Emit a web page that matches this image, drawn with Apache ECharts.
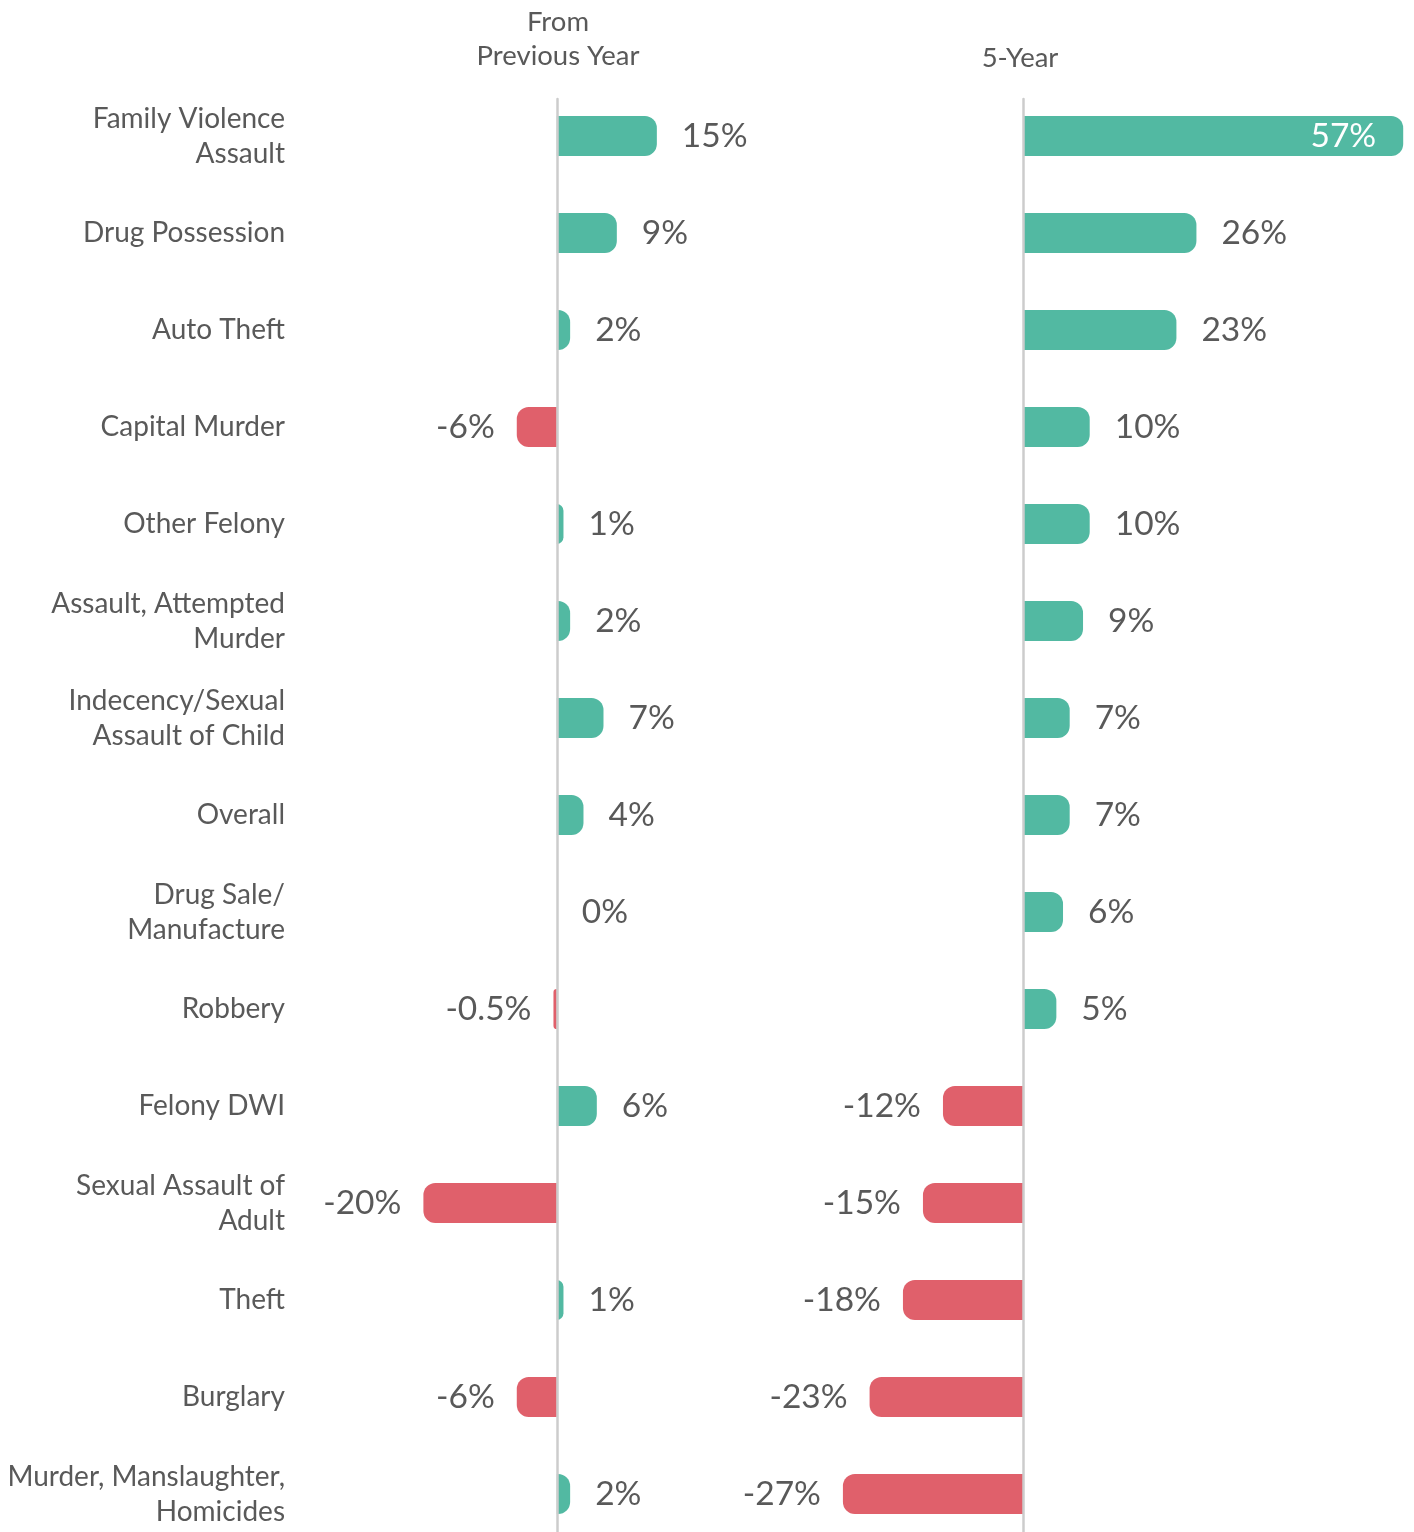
<!DOCTYPE html>
<html>
<head>
<meta charset="utf-8">
<script src="https://cdn.jsdelivr.net/npm/echarts@6/dist/echarts.min.js"></script>
<style>html,body{margin:0;padding:0;background:#fff;overflow:hidden}#c{width:1414px;height:1560px}</style>
</head>
<body>
<div id="c"></div>
<script>
var categories = ["Family Violence\nAssault","Drug Possession","Auto Theft","Capital Murder","Other Felony","Assault, Attempted\nMurder","Indecency/Sexual\nAssault of Child","Overall","Drug Sale/\nManufacture","Robbery","Felony DWI","Sexual Assault of\nAdult","Theft","Burglary","Murder, Manslaughter,\nHomicides"];
var prevYearValues = [15, 9, 2, -6, 1, 2, 7, 4, 0, -0.5, 6, -20, 1, -6, 2];
var prevYearLabels = ["15%","9%","2%","-6%","1%","2%","7%","4%","0%","-0.5%","6%","-20%","1%","-6%","2%"];
var fiveYearValues = [57, 26, 23, 10, 10, 9, 7, 7, 6, 5, -12, -15, -18, -23, -27];
var fiveYearLabels = ["57%","26%","23%","10%","10%","9%","7%","7%","6%","5%","-12%","-15%","-18%","-23%","-27%"];
var panelTitles = ["From\nPrevious Year", "5-Year"];

var GREEN = '#52B9A2', RED = '#E0606B', TEXT = '#595959', LINE = '#cccccc';
var FONT = 'Lato';

function items(vals, labels, insideIdx) {
  return vals.map(function (v, i) {
    var neg = v < 0;
    var lab = {
      show: true,
      position: neg ? 'left' : 'right',
      distance: neg ? 22 : 25,
      formatter: labels[i],
      color: TEXT,
      fontSize: 33.5,
      fontFamily: FONT
    };
    if (insideIdx.indexOf(i) >= 0) {
      lab.position = 'insideRight';
      lab.distance = 27;
      lab.color = '#ffffff';
    }
    return {
      value: v,
      itemStyle: { color: neg ? RED : GREEN, borderRadius: neg ? [12, 0, 0, 12] : [0, 12, 12, 0] },
      label: lab
    };
  });
}

var chart = echarts.init(document.getElementById('c'), null, { renderer: 'canvas' });
var gridTop = 87.5, gridH = 1455;
var leftMin = -40, leftMax = 40, rightMin = -30, rightMax = 57;
var hiddenY = { axisLine: { show: false }, axisTick: { show: false }, splitLine: { show: false }, axisLabel: { show: false } };
var zeroY = { type: 'value', min: 0, max: 1, z: 5, axisLine: { show: true, onZero: true, lineStyle: { color: LINE, width: 2.5 } },
  axisTick: { show: false }, splitLine: { show: false }, axisLabel: { show: false } };
var option = {
  animation: false,
  backgroundColor: '#ffffff',
  title: [
    { text: panelTitles[0], left: 558, top: 5, textAlign: 'center', padding: 0,
      textStyle: { fontFamily: FONT, fontSize: 27.5, fontWeight: 'normal', color: TEXT, lineHeight: 34, align: 'center' } },
    { text: panelTitles[1], left: 1020, top: 41, textAlign: 'center', padding: 0,
      textStyle: { fontFamily: FONT, fontSize: 27.5, fontWeight: 'normal', color: TEXT, lineHeight: 34 } }
  ],
  grid: [
    { left: 290, width: 533.6, top: gridTop, height: gridH },
    { left: 822.9, width: 580.3, top: gridTop, height: gridH },
    { left: 290, width: 533.6, top: 99, bottom: 28 },
    { left: 822.9, width: 580.3, top: 99, bottom: 28 }
  ],
  xAxis: [
    { gridIndex: 0, type: 'value', min: leftMin, max: leftMax, show: false },
    { gridIndex: 1, type: 'value', min: rightMin, max: rightMax, show: false },
    { gridIndex: 2, type: 'value', min: leftMin, max: leftMax, show: false },
    { gridIndex: 3, type: 'value', min: rightMin, max: rightMax, show: false }
  ],
  yAxis: [
    { gridIndex: 0, type: 'category', data: categories, inverse: true,
      axisLine: { show: false }, axisTick: { show: false }, splitLine: { show: false },
      axisLabel: { margin: 5, color: TEXT, fontSize: 28, fontFamily: FONT, lineHeight: 35, align: 'right' } },
    Object.assign({ gridIndex: 1, type: 'category', data: categories, inverse: true }, hiddenY),
    Object.assign({ gridIndex: 2 }, zeroY),
    Object.assign({ gridIndex: 3 }, zeroY)
  ],
  series: [
    { type: 'bar', xAxisIndex: 0, yAxisIndex: 0, barWidth: 40,
      data: items(prevYearValues, prevYearLabels, []) },
    { type: 'bar', xAxisIndex: 1, yAxisIndex: 1, barWidth: 40,
      data: items(fiveYearValues, fiveYearLabels, [0]) }
  ]
};
chart.setOption(option);
</script>
</body>
</html>
